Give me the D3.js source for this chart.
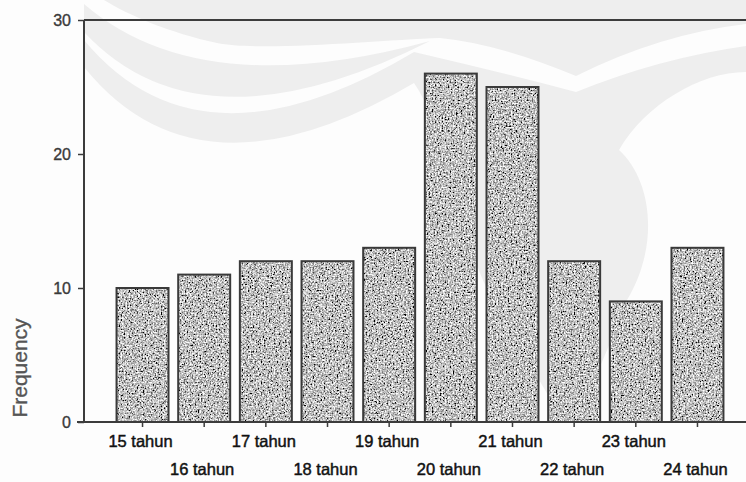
<!DOCTYPE html>
<html>
<head>
<meta charset="utf-8">
<script src="https://cdn.jsdelivr.net/npm/d3@7"></script>
<style>
  html, body { margin: 0; padding: 0; background: #fdfdfd; }
  svg { display: block; }
  text { font-family: "Liberation Sans", Arial, sans-serif; }
</style>
</head>
<body>
<svg id="chart" width="746" height="482"></svg>
<script>
// Age groups and respondent counts
const categories = ["15 tahun", "16 tahun", "17 tahun", "18 tahun", "19 tahun",
                    "20 tahun", "21 tahun", "22 tahun", "23 tahun", "24 tahun"];
const frequency = [10, 11, 12, 12, 13, 26, 25, 12, 9, 13];
const yTicks = [0, 10, 20, 30];

const W = 746, H = 482;
const svg = d3.select("#chart");

const defs = svg.append("defs");
// Speckled grey fill for the bars
const f = defs.append("filter").attr("id", "grain")
  .attr("x", 0).attr("y", 0).attr("width", 1).attr("height", 1);
f.append("feTurbulence").attr("type", "fractalNoise")
  .attr("baseFrequency", 0.62).attr("numOctaves", 2).attr("seed", 7).attr("result", "n");
f.append("feColorMatrix").attr("in", "n").attr("type", "saturate").attr("values", 0).attr("result", "g");
const ct = f.append("feComponentTransfer").attr("in", "g").attr("result", "c");
["feFuncR", "feFuncG", "feFuncB"].forEach(k =>
  ct.append(k).attr("type", "linear").attr("slope", 3.0).attr("intercept", -0.97));
ct.append("feFuncA").attr("type", "linear").attr("slope", 0).attr("intercept", 1);
f.append("feComposite").attr("in", "c").attr("in2", "SourceAlpha").attr("operator", "in");

// Faint emblem in the background
const emblem = svg.append("g").attr("fill", "#eeeeee");
// upper sweep running into the top edge
emblem.append("path").attr("d",
  "M104,0 L746,0 L746,24 Q660,34 576,76 Q500,44 440,38 " +
  "C380,40 260,52 217,43 C170,33 128,15 104,0 Z");
// tapering middle sweep
emblem.append("path").attr("d",
  "M84,4 Q200,104 430,41 Q200,157 84,32 Z");
// lower sweep merging into the shield shape
emblem.append("path").attr("d",
  "M84,40 Q200,180 414,52 Q500,72 576,92 Q660,58 746,46 L746,72 " +
  "C700,72 645,105 619,150 C652,180 660,245 627,300 C612,340 595,380 575,420 L560,420 " +
  "C545,380 500,330 475,260 C455,200 440,120 414,83 Q199,210 84,67 Z");

const x = d3.scaleBand().domain(categories).range([111.7, 728.3])
  .paddingInner(0.157).paddingOuter(0.0785);
const y = d3.scaleLinear().domain([0, 30]).range([422, 20]);

// Bars: speckled fill, dark outline
const bars = svg.append("g");
bars.selectAll("rect.fill").data(frequency).join("rect")
  .attr("class", "fill")
  .attr("x", (d, i) => x(categories[i]))
  .attr("y", d => y(d))
  .attr("width", x.bandwidth())
  .attr("height", d => y(0) - y(d))
  .attr("fill", "#888")
  .attr("filter", "url(#grain)");
bars.selectAll("rect.edge").data(frequency).join("rect")
  .attr("class", "edge")
  .attr("x", (d, i) => x(categories[i]))
  .attr("y", d => y(d))
  .attr("width", x.bandwidth())
  .attr("height", d => y(0) - y(d))
  .attr("fill", "none")
  .attr("stroke", "#3a3a3a")
  .attr("stroke-width", 2);

// Frame lines
svg.append("line").attr("x1", 84).attr("x2", W).attr("y1", y(30)).attr("y2", y(30))
  .attr("stroke", "#3c3c3c").attr("stroke-width", 2);
svg.append("line").attr("x1", 77).attr("x2", W).attr("y1", y(0)).attr("y2", y(0))
  .attr("stroke", "#3c3c3c").attr("stroke-width", 2);

// Y axis
const yAxis = svg.append("g").attr("transform", "translate(84,0)")
  .call(d3.axisLeft(y).tickValues(yTicks).tickSize(6).tickPadding(7).tickFormat(d3.format("d")));
yAxis.select(".domain").attr("stroke", "#3c3c3c").attr("stroke-width", 2)
  .attr("d", `M0,${y(30)}V${y(0)}`);
yAxis.selectAll(".tick line").attr("stroke", "#3c3c3c").attr("stroke-width", 1.5);
yAxis.selectAll(".tick text").attr("font-size", 16).attr("fill", "#3a3a3a")
  .attr("stroke", "#3a3a3a").attr("stroke-width", 0.35)
  .attr("font-family", "Liberation Sans, Arial, sans-serif").attr("dy", "0.36em");

// X axis: ticks under each bar, labels staggered on two rows
const xAxis = svg.append("g").attr("transform", `translate(0,${y(0)})`)
  .call(d3.axisBottom(x).tickSize(5).tickFormat(""));
xAxis.select(".domain").remove();
xAxis.selectAll(".tick line").attr("stroke", "#3c3c3c").attr("stroke-width", 1.5);

svg.append("g").selectAll("text").data(categories).join("text")
  .attr("x", d => x(d) + x.bandwidth() / 2 - 2)
  .attr("y", (d, i) => i % 2 === 0 ? 447 : 475)
  .attr("text-anchor", "middle")
  .attr("font-size", 16.5)
  .attr("fill", "#111")
  .attr("stroke", "#111")
  .attr("stroke-width", 0.45)
  .text(d => d);

// Axis title
svg.append("text")
  .attr("transform", `translate(27,368) rotate(-90)`)
  .attr("text-anchor", "middle")
  .attr("font-size", 21)
  .attr("fill", "#555")
  .attr("stroke", "#555")
  .attr("stroke-width", 0.35)
  .text("Frequency");
</script>
</body>
</html>
